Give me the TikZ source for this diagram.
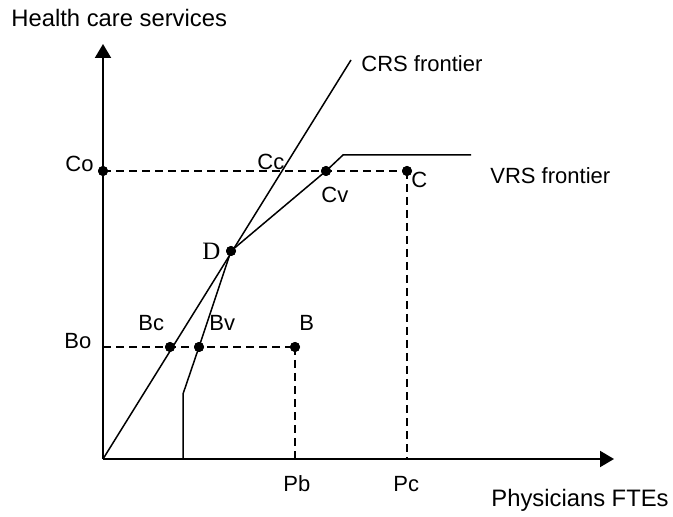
\documentclass[tikz,border=0pt]{standalone}
\usepackage{fontspec}
\setmainfont{Liberation Sans}
\newfontfamily\timesfont{Liberation Serif}
\usetikzlibrary{arrows.meta}
\begin{document}
\begin{tikzpicture}[x=0.5pt,y=-0.5pt,
  dot/.style={circle,fill=black,inner sep=0pt,minimum size=5pt},
  axis/.style={line width=1pt,-{Triangle[length=7pt,width=8pt]}},
  frontier/.style={line width=0.75pt,line join=miter},
  guide/.style={line width=0.75pt,dash pattern=on 4pt off 2.5pt},
  lab/.style={anchor=base west,inner sep=0pt,font=\fontsize{11}{13}\selectfont},
  biglab/.style={anchor=base west,inner sep=0pt,font=\fontsize{11.9}{14}\selectfont}]
\useasboundingbox (0,0) rectangle (673,517);
% coordinates
\coordinate (O) at (103,459);
\coordinate (ytop) at (103,44);
\coordinate (xend) at (614,459);
\coordinate (Bo) at (103,347);
\coordinate (Pbfoot) at (295,459);
\coordinate (Pcfoot) at (407,459);
\coordinate (vrs0) at (183,459);
\coordinate (vrs1) at (183,394);
\coordinate (kink) at (343,155);
\coordinate (vrsEnd) at (471,155);
\coordinate (crsTop) at (351,60);
% points
\node[dot] (Co) at (103,171) {};
\node[dot] (Cv) at (326,171) {};
\node[dot] (C) at (407,171) {};
\node[dot] (D) at (231,251) {};
\node[dot] (Bc) at (170,347) {};
\node[dot] (Bv) at (199,347) {};
\node[dot] (B) at (295,347) {};
% guides
\draw[guide] (Co.center) -- (C.center);
\draw[guide] (C.center) -- (Pcfoot);
\draw[guide] (Bo) -- (B.center);
\draw[guide] (B.center) -- (Pbfoot);
% axes
\draw[axis] (O) -- (ytop);
\draw[axis] (O) -- (xend);
% frontiers
\draw[frontier] (O) -- (crsTop);
\draw[frontier] (vrs0) -- (vrs1) -- (Bv.center) -- (D.center) -- (Cv.center) -- (kink) -- (vrsEnd);
% redraw dots on top
\foreach \p in {Co,Cv,C,D,Bc,Bv,B} \fill (\p) circle (2.5pt);
% labels
\node[biglab] (lhcs) at (11,27) {Health care services};
\node[biglab] (lphys) at (491,506) {Physicians FTEs};
\node[lab] (lcrs) at (361,72) {CRS frontier};
\node[lab] (lvrs) at (490,184) {VRS frontier};
\node[lab] (lCo) at (65,172) {Co};
\node[lab] (lBo) at (64,349) {Bo};
\node[lab] (lCc) at (257,170) {Cc};
\node[lab] (lCv) at (321,203) {Cv};
\node[lab] (lC) at (411,188) {C};
\node[anchor=base west,inner sep=0pt,font=\timesfont\fontsize{12.5}{14}\selectfont] (lD) at (202,260) {D};
\node[lab] (lBc) at (138,331) {Bc};
\node[lab] (lBv) at (209,331) {Bv};
\node[lab] (lB) at (299,331) {B};
\node[lab] (lPb) at (283,491) {Pb};
\node[lab] (lPc) at (393,491) {Pc};
\end{tikzpicture}
\end{document}
